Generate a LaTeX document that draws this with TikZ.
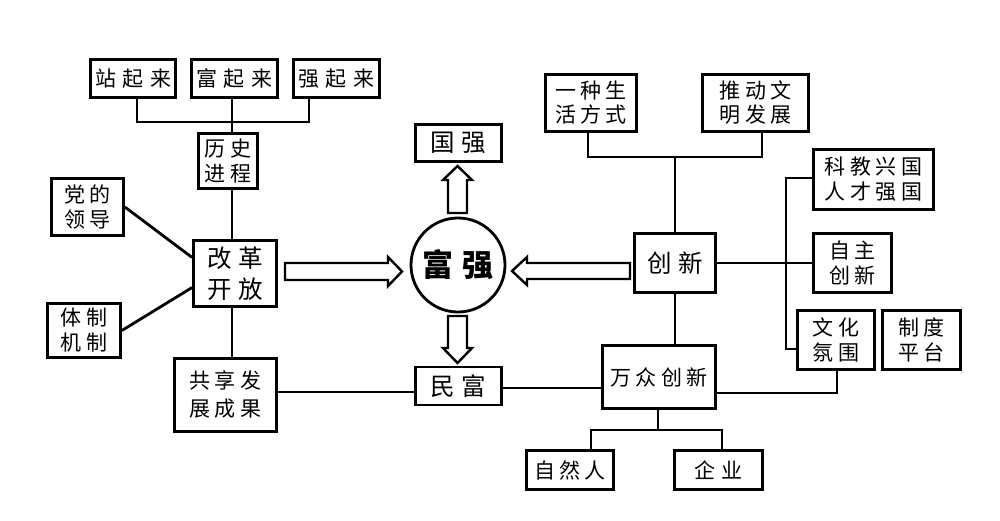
\documentclass[tikz,border=0pt]{standalone}
\usepackage{fontspec}
\setmainfont{Noto Sans CJK SC}
\newcommand\jg{\hspace{4.5pt}}
\newcommand\jh{\hspace{6.5pt}}
\begin{document}
\begin{tikzpicture}[x=1pt,y=-1pt,
  box/.style={draw,line width=2.8pt,rectangle,inner sep=0pt,align=center},
  sm/.style={font=\fontsize{21}{25}\selectfont},
  bg/.style={font=\fontsize{24.5}{31}\selectfont},
  ln/.style={line width=2.8pt},
  oarrow/.style={draw,line width=2.4pt,fill=white,line join=miter}]
\useasboundingbox[fill=white] (0,0) rectangle (1000,520);
% left part
\node[box,sm,minimum width=85,minimum height=38] (zhan) at (133,78.5) {站\jh 起\jh 来};
\node[box,sm,minimum width=86,minimum height=38] (fu) at (234.5,78.5) {富\jh 起\jh 来};
\node[box,sm,minimum width=86,minimum height=38] (qiang) at (336.5,78.5) {强\jh 起\jh 来};
\node[box,sm,minimum width=59,minimum height=55] (lishi) at (228,161) {历\jg 史\\进\jg 程};
\node[box,sm,minimum width=72,minimum height=57] (dang) at (87.5,207) {党\jg 的\\领\jg 导};
\node[box,bg,minimum width=83,minimum height=66] (gaige) at (235,273.5) {改\jh 革\\开\jh 放};
\node[box,sm,minimum width=73,minimum height=54] (tizhi) at (84,330.5) {体\jg 制\\机\jg 制};
\node[box,sm,minimum width=102,minimum height=73,font=\fontsize{21}{28}\selectfont] (gongxiang) at (225.5,395) {共\jg 享\jg 发\\展\jg 成\jg 果};
% centre
\node[box,bg,minimum width=86,minimum height=37] (guoqiang) at (458.5,143) {国\jh 强};
\node[draw,circle,line width=2.8pt,minimum size=94,inner sep=0pt,font=\fontsize{31}{31}\selectfont\bfseries] (fq) at (458,265) {富\hspace{10pt}强};
\node[box,bg,minimum width=86,minimum height=38] (minfu) at (458.5,386) {民\jh 富};
% right part
\node[box,sm,minimum width=91,minimum height=57,font=\fontsize{21}{24}\selectfont] (yizhong) at (591,103) {一\jg 种\jg 生\\活\jg 方\jg 式};
\node[box,sm,minimum width=106,minimum height=57,font=\fontsize{21}{24}\selectfont] (tuidong) at (755.5,103) {推\jg 动\jg 文\\明\jg 发\jg 展};
\node[box,sm,minimum width=120,minimum height=60] (kejiao) at (873.5,179.5) {科\jg 教\jg 兴\jg 国\\人\jg 才\jg 强\jg 国};
\node[box,bg,minimum width=81,minimum height=59] (chuangxin) at (675,263) {创\jh 新};
\node[box,sm,minimum width=78,minimum height=59] (zizhu) at (852.5,263) {自\jg 主\\创\jg 新};
\node[box,sm,minimum width=77,minimum height=59] (wenhua) at (836,340) {文\jg 化\\氛\jg 围};
\node[box,sm,minimum width=78,minimum height=59] (zhidu) at (921.5,340) {制\jg 度\\平\jg 台};
\node[box,sm,minimum width=113,minimum height=63] (wanzhong) at (659,377) {万\jg 众\jg 创\jg 新};
\node[box,sm,minimum width=87,minimum height=39] (ziran) at (570,470) {自\jg 然\jg 人};
\node[box,sm,minimum width=88,minimum height=39] (qiye) at (718.5,470) {企\jh 业};
% helper coordinates
\coordinate (b1) at (137,122);
\coordinate (b2) at (309,122);
\coordinate (tr) at (232,122);
\coordinate (r1) at (588,157);
\coordinate (r2) at (762,157);
\coordinate (rt) at (675,157);
\coordinate (v1) at (786,178);
\coordinate (v2) at (786,349);
\coordinate (w1) at (837,393);
\coordinate (m1) at (658,430);
\coordinate (m2) at (591,430);
\coordinate (m3) at (722,430);
\coordinate (gl) at (0,392);
\coordinate (ml) at (0,388);
% connectors left
\draw[ln] (b1 |- zhan.south) -- (b1) -- (b2) -- (b2 |- qiang.south);
\draw[ln] (tr |- fu.south) -- (tr |- lishi.north);
\draw[ln] (tr |- lishi.south) -- (tr |- gaige.north);
\draw[ln] (tr |- gaige.south) -- (tr |- gongxiang.north);
\draw[ln] (dang.east) -- ([yshift=16pt]gaige.west);
\draw[ln] (tizhi.east) -- ([yshift=-14pt]gaige.west);
\draw[ln] (gongxiang.east |- gl) -- (minfu.west |- gl);
\draw[ln] (minfu.east |- ml) -- (wanzhong.west |- ml);
% connectors right
\draw[ln] (r1 |- yizhong.south) -- (r1) -- (r2) -- (r2 |- tuidong.south);
\draw[ln] (rt) -- (chuangxin.north);
\draw[ln] (chuangxin.east) -- (zizhu.west);
\draw[ln] (kejiao.west |- v1) -- (v1) -- (v2) -- (wenhua.west |- v2);
\draw[ln] (chuangxin.south) -- (wanzhong.north -| chuangxin.south);
\draw[ln] (wanzhong.east |- w1) -- (w1) -- (w1 |- wenhua.south);
\draw[ln] (m1 |- wanzhong.south) -- (m1);
\draw[ln] (m2 |- ziran.north) -- (m2) -- (m3) -- (m3 |- qiye.north);
% open arrows
\draw[oarrow] (285,263) -- (388,263) -- (388,257) -- (402,271.5) -- (388,286) -- (388,280) -- (285,280) -- cycle;
\draw[oarrow] (630,263) -- (527,263) -- (527,257) -- (512,271) -- (527,285) -- (527,279) -- (630,279) -- cycle;
\draw[oarrow] (448,213) -- (448,180) -- (443,180) -- (457.5,166) -- (472,180) -- (467,180) -- (467,213) -- cycle;
\draw[oarrow] (448,316) -- (448,348) -- (443,348) -- (457.5,363) -- (472,348) -- (467,348) -- (467,316) -- cycle;
\end{tikzpicture}
\end{document}
